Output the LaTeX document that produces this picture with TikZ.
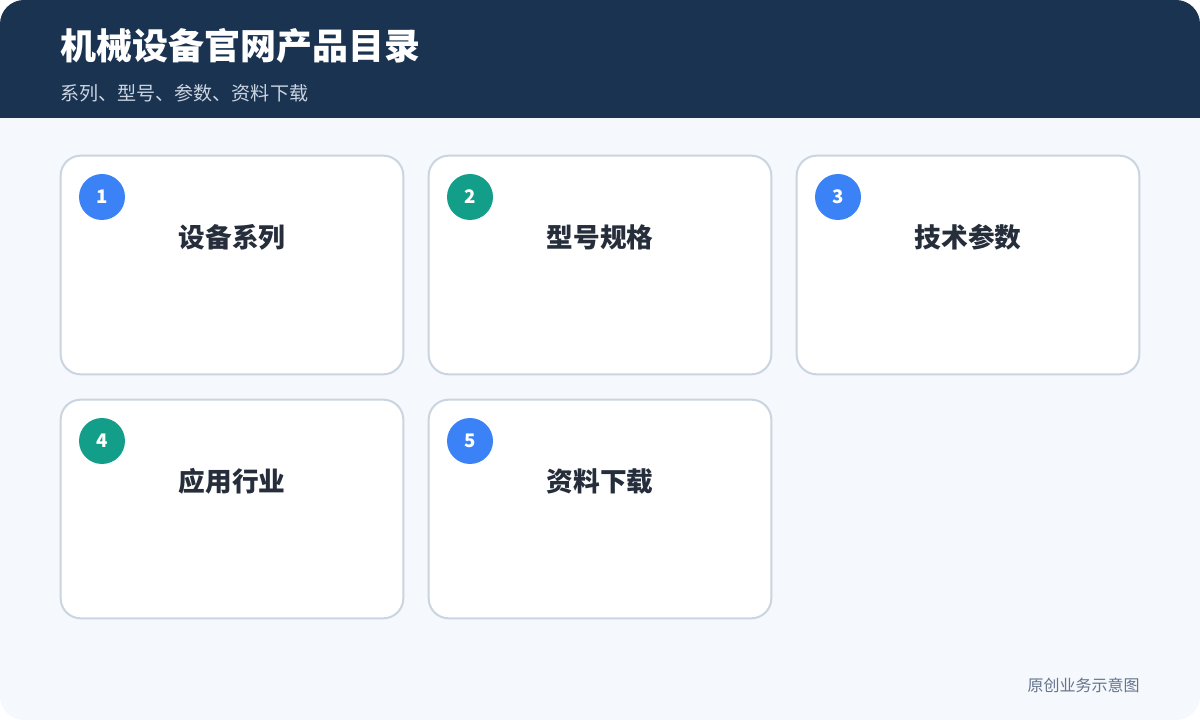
\documentclass[tikz,border=0pt]{standalone}
\usepackage{fontspec}
\setmainfont{Noto Sans CJK SC}
\definecolor{navy}{RGB}{26,51,80}
\definecolor{pagebg}{RGB}{245,248,252}
\definecolor{cardline}{RGB}{203,213,225}
\definecolor{blueb}{RGB}{59,130,246}
\definecolor{tealb}{RGB}{19,158,138}
\definecolor{inktext}{RGB}{38,46,60}
\definecolor{subtext}{RGB}{203,213,225}
\definecolor{foottext}{RGB}{100,116,139}
\begin{document}
\begin{tikzpicture}[x=0.75pt,y=-0.75pt,
    card/.style={draw=cardline,line width=1.5pt,fill=white,rounded corners=15pt,minimum width=257pt,minimum height=164pt,inner sep=0pt},
    badge/.style={circle,minimum size=34.5pt,inner sep=0pt,text=white,font=\fontsize{14}{16}\selectfont\bfseries},
    cardtitle/.style={text=inktext,font=\fontsize{20}{23}\selectfont\bfseries}]
    \useasboundingbox (0,0) rectangle (1200,720);
    \begin{scope}
        \clip[rounded corners=18pt] (0,0) rectangle (1200,720);
        \fill[pagebg] (0,0) rectangle (1200,720);
        \fill[navy] (0,0) rectangle (1200,118);
    \end{scope}

    \node[anchor=west,text=white,font=\fontsize{27}{31}\selectfont\bfseries,inner sep=0pt] (title) at (60,46) {机械设备官网产品目录};
    \node[anchor=west,text=subtext,font=\fontsize{14.3}{16}\selectfont,inner sep=0pt] (subtitle) at (60,93) {系列、型号、参数、资料下载};

    \node[card] (c1) at (232,265) {};
    \node[card] (c2) at (600,265) {};
    \node[card] (c3) at (968,265) {};
    \node[card] (c4) at (232,509) {};
    \node[card] (c5) at (600,509) {};

    \node[badge,fill=blueb] (b1) at (102,197) {1};
    \node[badge,fill=tealb] (b2) at (470,197) {2};
    \node[badge,fill=blueb] (b3) at (838,197) {3};
    \node[badge,fill=tealb] (b4) at (102,441) {4};
    \node[badge,fill=blueb] (b5) at (470,441) {5};

    \node[cardtitle] (t1) at (232,237) {设备系列};
    \node[cardtitle] (t2) at (600,237) {型号规格};
    \node[cardtitle] (t3) at (968,237) {技术参数};
    \node[cardtitle] (t4) at (232,481) {应用行业};
    \node[cardtitle] (t5) at (600,481) {资料下载};

    \node[anchor=east,text=foottext,font=\fontsize{12}{14}\selectfont,inner sep=0pt] (foot) at (1140,685) {原创业务示意图};
\end{tikzpicture}
\end{document}
